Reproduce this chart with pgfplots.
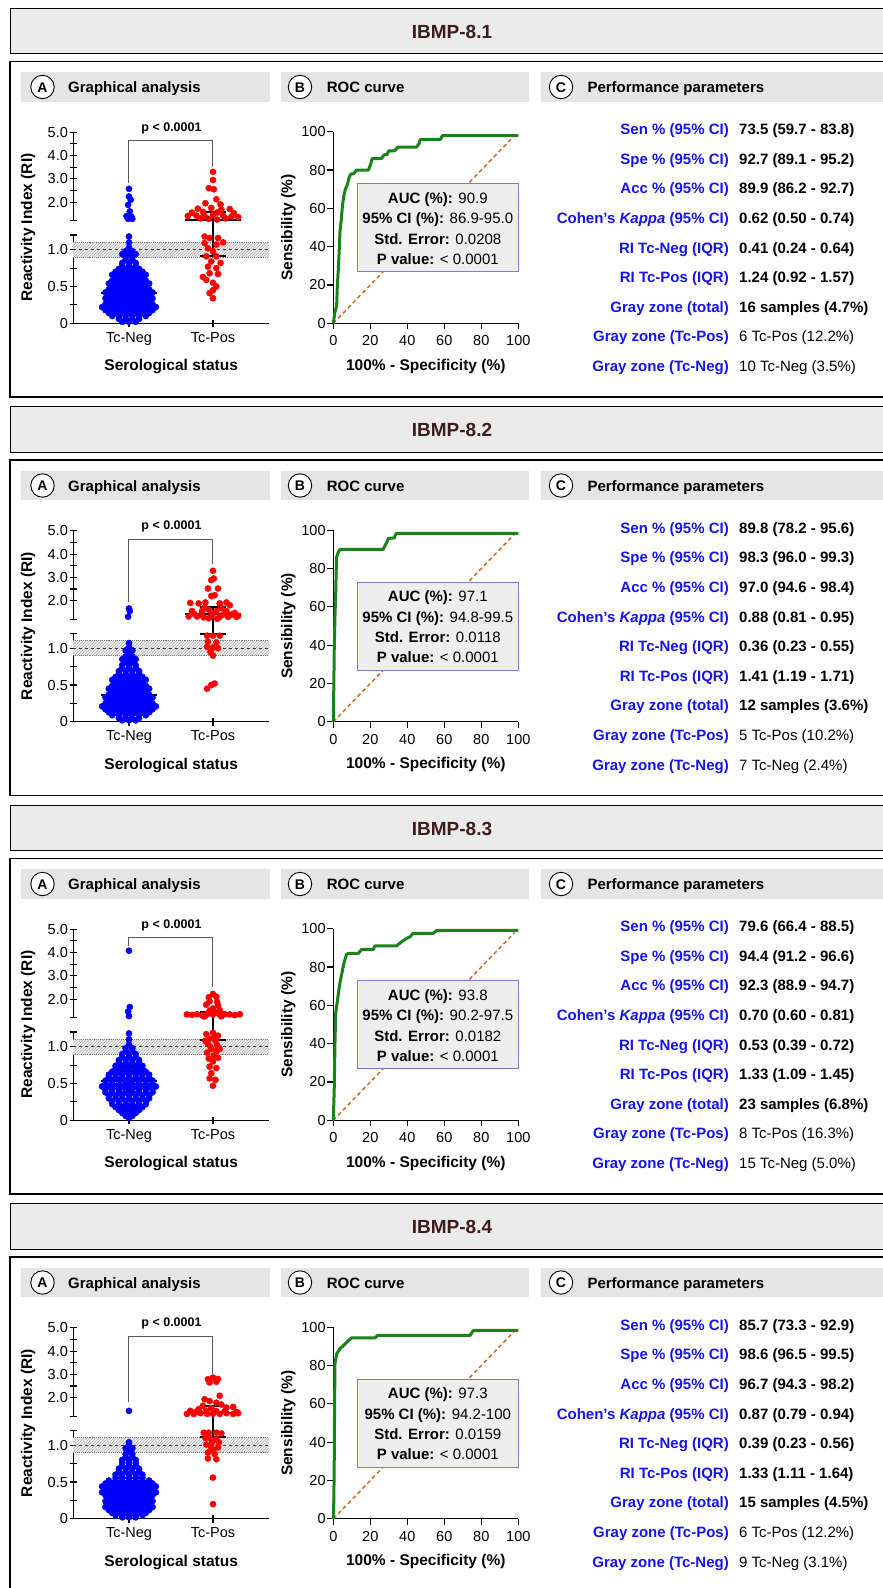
\documentclass[border=0pt]{standalone}
\usepackage{fontspec}
\setmainfont{Liberation Sans}
\usepackage{pgfplots}
\pgfplotsset{compat=1.18}
\usepackage{pgfplotstable}
\usetikzlibrary{patterns}
\definecolor{ptblue}{RGB}{0,0,255}
\definecolor{ptred}{RGB}{255,0,0}
\definecolor{lblblue}{RGB}{20,20,235}
\definecolor{rocgreen}{RGB}{25,130,25}
\definecolor{diagor}{RGB}{205,110,40}
\definecolor{boxedge}{RGB}{125,125,200}
\definecolor{boxfill}{RGB}{238,238,238}
\definecolor{hdrfill}{RGB}{235,235,235}
\definecolor{bandfill}{RGB}{229,229,229}
\definecolor{titlecol}{RGB}{60,28,28}
\newcommand{\fs}[1]{\fontsize{#1}{#1}\selectfont}
% ---------------- data ----------------
\pgfplotstableread[row sep=\\]{x y\\
0.92 0.02\\1 0.02\\1.08 0.02\\
0.88 0.06\\0.96 0.06\\1.04 0.06\\1.12 0.06\\
0.80 0.10\\0.88 0.10\\0.96 0.10\\1.04 0.10\\1.12 0.10\\1.20 0.10\\
0.76 0.14\\0.84 0.14\\0.92 0.14\\1 0.14\\1.08 0.14\\1.16 0.14\\1.24 0.14\\
0.72 0.18\\0.80 0.18\\0.88 0.18\\0.96 0.18\\1.04 0.18\\1.12 0.18\\1.20 0.18\\1.28 0.18\\
0.68 0.22\\0.76 0.22\\0.84 0.22\\0.92 0.22\\1 0.22\\1.08 0.22\\1.16 0.22\\1.24 0.22\\1.32 0.22\\
0.72 0.26\\0.80 0.26\\0.88 0.26\\0.96 0.26\\1.04 0.26\\1.12 0.26\\1.20 0.26\\1.28 0.26\\
0.76 0.30\\0.84 0.30\\0.92 0.30\\1 0.30\\1.08 0.30\\1.16 0.30\\1.24 0.30\\
0.72 0.34\\0.80 0.34\\0.88 0.34\\0.96 0.34\\1.04 0.34\\1.12 0.34\\1.20 0.34\\1.28 0.34\\
0.76 0.38\\0.84 0.38\\0.92 0.38\\1 0.38\\1.08 0.38\\1.16 0.38\\1.24 0.38\\
0.72 0.42\\0.80 0.42\\0.88 0.42\\0.96 0.42\\1.04 0.42\\1.12 0.42\\1.20 0.42\\1.28 0.42\\
0.76 0.46\\0.84 0.46\\0.92 0.46\\1 0.46\\1.08 0.46\\1.16 0.46\\1.24 0.46\\
0.80 0.50\\0.88 0.50\\0.96 0.50\\1.04 0.50\\1.12 0.50\\1.20 0.50\\
0.76 0.54\\0.84 0.54\\0.92 0.54\\1 0.54\\1.08 0.54\\1.16 0.54\\1.24 0.54\\
0.80 0.58\\0.88 0.58\\0.96 0.58\\1.04 0.58\\1.12 0.58\\1.20 0.58\\
0.84 0.62\\0.92 0.62\\1 0.62\\1.08 0.62\\1.16 0.62\\
0.80 0.66\\0.88 0.66\\0.96 0.66\\1.04 0.66\\1.12 0.66\\1.20 0.66\\
0.84 0.70\\0.92 0.70\\1 0.70\\1.08 0.70\\1.16 0.70\\
0.88 0.74\\0.96 0.74\\1.04 0.74\\1.12 0.74\\
0.92 0.78\\1 0.78\\1.08 0.78\\
0.92 0.82\\1 0.82\\1.08 0.82\\
0.96 0.86\\1.04 0.86\\
0.96 0.90\\1.04 0.90\\
0.92 0.94\\1 0.94\\1.08 0.94\\
0.96 0.98\\1.04 0.98\\
1 1.03\\1 1.10\\1 1.18\\
1 2.57\\1 2.24\\1.02 2.10\\0.99 1.88\\1.01 1.60\\0.97 1.40\\1.03 1.37\\0.99 1.28\\1.04 1.28\\
}\negA
\pgfplotstableread[row sep=\\]{x y\\
2 3.30\\2 2.95\\1.95 2.60\\2.01 2.55\\2.04 2.12\\1.91 1.95\\2.09 1.90\\1.82 1.72\\1.98 1.75\\2.10 1.68\\2.20 1.70\\
1.75 1.55\\1.88 1.58\\2.05 1.55\\2.25 1.52\\1.70 1.40\\1.80 1.42\\1.90 1.40\\2.00 1.45\\2.12 1.42\\2.22 1.38\\2.30 1.35\\
1.85 1.30\\2.15 1.30\\1.95 1.28\\2.05 1.25\\
1.90 1.18\\1.96 1.16\\2.06 1.16\\1.90 1.09\\2.04 1.07\\2.12 1.10\\1.94 1.02\\2.00 0.98\\1.92 0.91\\2.04 0.91\\
1.98 0.84\\1.94 0.77\\2.04 0.75\\1.96 0.68\\2.06 0.67\\1.92 0.59\\2.00 0.55\\2.04 0.50\\2.00 0.45\\1.96 0.41\\
2.00 0.34\\1.88 0.63\\2.09 0.82\\
}\posA
\pgfplotstableread[row sep=\\]{x y\\
0 0\\0.9 6\\1.8 9\\2.2 20\\2.7 28\\3.2 38\\3.6 48\\4.3 54\\5 62\\5.6 66\\6.5 70\\7.5 72\\8.5 76\\9.5 78\\11 78\\12.5 80\\19 80\\19.8 82\\20.5 84\\21 86\\26 86\\27.5 88\\29 88\\30 90\\33 90\\35 92\\45 92\\46.5 94\\47 96\\58 96\\59 98\\100 98\\
}\rocA
\pgfplotstableread[row sep=\\]{x y\\
0.92 0.02\\1 0.02\\1.08 0.02\\
0.88 0.05\\0.96 0.05\\1.04 0.05\\1.12 0.05\\
0.80 0.09\\0.88 0.09\\0.96 0.09\\1.04 0.09\\1.12 0.09\\1.20 0.09\\
0.76 0.13\\0.84 0.13\\0.92 0.13\\1 0.13\\1.08 0.13\\1.16 0.13\\1.24 0.13\\
0.72 0.17\\0.80 0.17\\0.88 0.17\\0.96 0.17\\1.04 0.17\\1.12 0.17\\1.20 0.17\\1.28 0.17\\
0.68 0.21\\0.76 0.21\\0.84 0.21\\0.92 0.21\\1 0.21\\1.08 0.21\\1.16 0.21\\1.24 0.21\\1.32 0.21\\
0.72 0.25\\0.80 0.25\\0.88 0.25\\0.96 0.25\\1.04 0.25\\1.12 0.25\\1.20 0.25\\1.28 0.25\\
0.76 0.29\\0.84 0.29\\0.92 0.29\\1 0.29\\1.08 0.29\\1.16 0.29\\1.24 0.29\\
0.72 0.33\\0.80 0.33\\0.88 0.33\\0.96 0.33\\1.04 0.33\\1.12 0.33\\1.20 0.33\\1.28 0.33\\
0.76 0.37\\0.84 0.37\\0.92 0.37\\1 0.37\\1.08 0.37\\1.16 0.37\\1.24 0.37\\
0.80 0.41\\0.88 0.41\\0.96 0.41\\1.04 0.41\\1.12 0.41\\1.20 0.41\\
0.76 0.45\\0.84 0.45\\0.92 0.45\\1 0.45\\1.08 0.45\\1.16 0.45\\1.24 0.45\\
0.80 0.49\\0.88 0.49\\0.96 0.49\\1.04 0.49\\1.12 0.49\\1.20 0.49\\
0.84 0.53\\0.92 0.53\\1 0.53\\1.08 0.53\\1.16 0.53\\
0.80 0.57\\0.88 0.57\\0.96 0.57\\1.04 0.57\\1.12 0.57\\1.20 0.57\\
0.84 0.61\\0.92 0.61\\1 0.61\\1.08 0.61\\1.16 0.61\\
0.88 0.65\\0.96 0.65\\1.04 0.65\\1.12 0.65\\
0.88 0.69\\0.96 0.69\\1.04 0.69\\1.12 0.69\\
0.92 0.73\\1 0.73\\1.08 0.73\\
0.92 0.77\\1 0.77\\1.08 0.77\\
0.96 0.81\\1.04 0.81\\
0.92 0.85\\1 0.85\\1.08 0.85\\
0.96 0.89\\1.04 0.89\\
1 0.93\\
0.96 0.97\\1.04 0.97\\
1 1.02\\1 1.07\\
1 1.66\\1.01 1.55\\0.99 1.31\\
}\negB
\pgfplotstableread[row sep=\\]{x y\\
2.00 3.28\\2.01 2.95\\1.98 2.88\\1.94 2.52\\2.06 2.52\\2.02 2.23\\1.98 2.20\\1.73 1.90\\1.83 1.88\\1.91 1.92\\2.08 1.88\\2.16 1.92\\2.20 1.80\\
1.75 1.55\\1.87 1.55\\1.95 1.60\\2.04 1.55\\2.16 1.55\\2.26 1.47\\1.71 1.32\\1.81 1.32\\1.89 1.28\\1.98 1.32\\2.08 1.30\\2.18 1.30\\2.28 1.30\\
1.90 1.70\\2.10 1.68\\1.78 1.42\\2.00 1.45\\2.22 1.40\\1.86 1.38\\2.12 1.40\\1.95 1.24\\2.05 1.22\\2.30 1.35\\
1.93 1.17\\2.00 1.17\\2.08 1.17\\1.94 1.09\\2.04 1.08\\1.93 1.02\\2.00 1.01\\2.06 1.00\\1.97 0.95\\2.00 0.90\\2.02 0.52\\1.98 0.50\\1.93 0.45\\
}\posB
\pgfplotstableread[row sep=\\]{x y\\
0 0\\0.3 20\\0.5 37\\0.9 55\\1.3 67\\1.6 80\\1.8 86\\2.7 88.5\\3.6 90\\27 90\\28 92\\28.8 93.5\\29.7 95.7\\33 96\\33.5 97.5\\34.2 98.3\\100 98.3\\
}\rocB
\pgfplotstableread[row sep=\\]{x y\\
1 0.03\\
0.96 0.06\\1.04 0.06\\
0.92 0.10\\1 0.10\\1.08 0.10\\
0.88 0.14\\0.96 0.14\\1.04 0.14\\1.12 0.14\\
0.84 0.18\\0.92 0.18\\1 0.18\\1.08 0.18\\1.16 0.18\\
0.80 0.22\\0.88 0.22\\0.96 0.22\\1.04 0.22\\1.12 0.22\\1.20 0.22\\
0.80 0.26\\0.88 0.26\\0.96 0.26\\1.04 0.26\\1.12 0.26\\1.20 0.26\\
0.76 0.30\\0.84 0.30\\0.92 0.30\\1 0.30\\1.08 0.30\\1.16 0.30\\1.24 0.30\\
0.76 0.34\\0.84 0.34\\0.92 0.34\\1 0.34\\1.08 0.34\\1.16 0.34\\1.24 0.34\\
0.72 0.38\\0.80 0.38\\0.88 0.38\\0.96 0.38\\1.04 0.38\\1.12 0.38\\1.20 0.38\\1.28 0.38\\
0.72 0.42\\0.80 0.42\\0.88 0.42\\0.96 0.42\\1.04 0.42\\1.12 0.42\\1.20 0.42\\1.28 0.42\\
0.68 0.46\\0.76 0.46\\0.84 0.46\\0.92 0.46\\1 0.46\\1.08 0.46\\1.16 0.46\\1.24 0.46\\1.32 0.46\\
0.72 0.50\\0.80 0.50\\0.88 0.50\\0.96 0.50\\1.04 0.50\\1.12 0.50\\1.20 0.50\\1.28 0.50\\
0.72 0.54\\0.80 0.54\\0.88 0.54\\0.96 0.54\\1.04 0.54\\1.12 0.54\\1.20 0.54\\1.28 0.54\\
0.76 0.58\\0.84 0.58\\0.92 0.58\\1 0.58\\1.08 0.58\\1.16 0.58\\1.24 0.58\\
0.76 0.62\\0.84 0.62\\0.92 0.62\\1 0.62\\1.08 0.62\\1.16 0.62\\1.24 0.62\\
0.80 0.66\\0.88 0.66\\0.96 0.66\\1.04 0.66\\1.12 0.66\\1.20 0.66\\
0.84 0.70\\0.92 0.70\\1 0.70\\1.08 0.70\\1.16 0.70\\
0.84 0.74\\0.92 0.74\\1 0.74\\1.08 0.74\\1.16 0.74\\
0.88 0.78\\0.96 0.78\\1.04 0.78\\1.12 0.78\\
0.88 0.82\\0.96 0.82\\1.04 0.82\\1.12 0.82\\
0.92 0.86\\1 0.86\\1.08 0.86\\
0.92 0.90\\1 0.90\\1.08 0.90\\
0.96 0.94\\1.04 0.94\\
0.96 0.98\\1.04 0.98\\
1 1.03\\1 1.10\\1 1.18\\
1 4.08\\1.01 1.66\\0.99 1.47\\1 1.27\\
}\negC
\pgfplotstableread[row sep=\\]{x y\\
2 2.22\\1.95 2.08\\2.04 2.10\\1.96 1.90\\2.05 1.88\\1.92 1.76\\2.06 1.72\\2.00 1.60\\1.96 1.50\\2.08 1.52\\
1.69 1.34\\1.75 1.32\\1.81 1.35\\1.87 1.30\\1.93 1.35\\2.00 1.34\\2.08 1.32\\2.14 1.35\\2.20 1.34\\2.26 1.31\\2.32 1.35\\1.95 1.42\\2.05 1.42\\1.90 1.25\\2.10 1.26\\
2.00 1.19\\1.92 1.17\\2.06 1.15\\1.96 1.11\\2.03 1.08\\1.94 1.04\\2.05 1.02\\1.98 0.97\\2.04 0.94\\1.93 0.92\\2.01 0.88\\2.00 0.80\\
1.96 0.73\\2.04 0.71\\1.98 0.64\\1.96 0.57\\2.03 0.55\\2.00 0.47\\2.06 0.85\\1.95 0.84\\2.02 1.13\\1.97 1.00\\2.08 0.97\\1.91 1.08\\
}\posC
\pgfplotstableread[row sep=\\]{x y\\
0 0\\0.5 16\\0.9 40\\1.3 56\\2.3 63\\3 68\\3.6 72\\4.5 76\\5.4 80.5\\6.3 84\\7.2 86.6\\8.1 87.1\\13.5 87.1\\15.3 89.2\\21.6 89.2\\22.5 91\\34.2 91\\36 92.5\\38.7 94.4\\41.4 95.8\\43.2 97.6\\54 97.6\\55.9 99.1\\100 99.1\\
}\rocC
\pgfplotstableread[row sep=\\]{x y\\
0.92 0.02\\1 0.02\\1.08 0.02\\
0.84 0.05\\0.92 0.05\\1 0.05\\1.08 0.05\\1.16 0.05\\
0.80 0.08\\0.88 0.08\\0.96 0.08\\1.04 0.08\\1.12 0.08\\1.20 0.08\\
0.76 0.12\\0.84 0.12\\0.92 0.12\\1 0.12\\1.08 0.12\\1.16 0.12\\1.24 0.12\\
0.72 0.16\\0.80 0.16\\0.88 0.16\\0.96 0.16\\1.04 0.16\\1.12 0.16\\1.20 0.16\\1.28 0.16\\
0.76 0.20\\0.84 0.20\\0.92 0.20\\1 0.20\\1.08 0.20\\1.16 0.20\\1.24 0.20\\
0.72 0.24\\0.80 0.24\\0.88 0.24\\0.96 0.24\\1.04 0.24\\1.12 0.24\\1.20 0.24\\1.28 0.24\\
0.76 0.28\\0.84 0.28\\0.92 0.28\\1 0.28\\1.08 0.28\\1.16 0.28\\1.24 0.28\\
0.72 0.32\\0.80 0.32\\0.88 0.32\\0.96 0.32\\1.04 0.32\\1.12 0.32\\1.20 0.32\\1.28 0.32\\
0.68 0.36\\0.76 0.36\\0.84 0.36\\0.92 0.36\\1 0.36\\1.08 0.36\\1.16 0.36\\1.24 0.36\\1.32 0.36\\
0.72 0.40\\0.80 0.40\\0.88 0.40\\0.96 0.40\\1.04 0.40\\1.12 0.40\\1.20 0.40\\1.28 0.40\\
0.68 0.44\\0.76 0.44\\0.84 0.44\\0.92 0.44\\1 0.44\\1.08 0.44\\1.16 0.44\\1.24 0.44\\1.32 0.44\\
0.72 0.48\\0.80 0.48\\0.88 0.48\\0.96 0.48\\1.04 0.48\\1.12 0.48\\1.20 0.48\\1.28 0.48\\
0.76 0.52\\0.84 0.52\\0.92 0.52\\1 0.52\\1.08 0.52\\1.16 0.52\\1.24 0.52\\
0.84 0.56\\0.92 0.56\\1 0.56\\1.08 0.56\\1.16 0.56\\
0.84 0.60\\0.92 0.60\\1 0.60\\1.08 0.60\\1.16 0.60\\
0.88 0.64\\0.96 0.64\\1.04 0.64\\1.12 0.64\\
0.88 0.68\\0.96 0.68\\1.04 0.68\\1.12 0.68\\
0.92 0.72\\1 0.72\\1.08 0.72\\
0.92 0.76\\1 0.76\\1.08 0.76\\
0.92 0.80\\1 0.80\\1.08 0.80\\
0.96 0.84\\1.04 0.84\\
0.96 0.88\\1.04 0.88\\
1 0.92\\
0.96 0.96\\1.04 0.96\\
1 1.00\\1 1.04\\
1 1.43\\
}\negD
\pgfplotstableread[row sep=\\]{x y\\
1.94 2.79\\2.00 2.86\\2.06 2.80\\1.96 2.65\\2.04 2.68\\1.90 1.93\\2.08 2.08\\1.96 1.85\\2.04 1.78\\1.88 1.65\\1.83 1.50\\2.16 1.57\\2.24 1.60\\
1.73 1.43\\1.80 1.40\\1.92 1.44\\2.04 1.42\\2.14 1.42\\2.28 1.38\\1.69 1.30\\1.77 1.30\\1.85 1.33\\1.93 1.30\\2.00 1.31\\2.08 1.30\\2.16 1.33\\2.24 1.30\\2.30 1.33\\1.98 1.55\\2.10 1.70\\
1.89 1.17\\1.95 1.17\\2.04 1.17\\2.10 1.16\\1.96 1.10\\2.04 1.08\\1.92 1.01\\1.98 0.97\\2.06 0.97\\1.94 0.90\\2.02 0.88\\2.04 0.81\\1.94 0.82\\2.00 0.56\\2.00 0.20\\1.99 1.04\\2.07 1.04\\2.00 0.93\\1.91 1.10\\
}\posD
\pgfplotstableread[row sep=\\]{x y\\
0 0\\0.3 10\\0.5 28.7\\0.7 60\\0.9 80.9\\1.8 86.1\\3.6 88.7\\5.4 90.4\\8.1 93\\9.9 94.4\\22.5 94.4\\23.9 95.7\\73.9 95.7\\75.7 98.3\\100 98.3\\
}\rocD
% ---------------- styles ----------------
\pgfplotsset{
  scat/.style={scale only axis, width=195.7pt, xmin=0.337, xmax=2.667,
    tick style={line width=1.1pt, black},
    tick align=outside, major tick length=7.5pt, clip=false,
    tick label style={font=\fs{14.5}}, yticklabel style={inner sep=1.5pt},
    xticklabel style={yshift=-1.5pt},
    /pgf/number format/assume math mode=true},
  negpts/.style={only marks, mark=*, mark size=3.1pt, color=ptblue},
  pospts/.style={only marks, mark=*, mark size=3.1pt, color=ptred},
  medl/.style={black, line width=2pt},
}
% #1 panel index, #2 neg table, #3 pos table, #4 roc table
\newcommand{\panel}[4]{%
\pgfmathsetmacro{\poff}{398.5*#1}%
\pgfmathsetmacro{\ylow}{-323.3-\poff}%
\pgfmathsetmacro{\yup}{-220.7-\poff}%
\begin{scope}[x=1pt,y=1pt]
\draw[fill=hdrfill, line width=1pt] (10,{-8.3-\poff}) rectangle (895,{-53.5-\poff});
\node[anchor=base, inner sep=0, font=\bfseries\fs{19}, text=titlecol] at (452,{-38.3-\poff}) {\ptitle};
\draw[line width=1.4pt] (10,{-61.5-\poff}) rectangle (895,{-397-\poff});
\fill[bandfill] (21,{-72-\poff}) rectangle (270,{-101.5-\poff});
\fill[bandfill] (281,{-72-\poff}) rectangle (529,{-101.5-\poff});
\fill[bandfill] (541,{-72-\poff}) rectangle (895,{-101.5-\poff});
\draw[fill=white, line width=0.9pt] (42.5,{-87-\poff}) circle (11.7);
\draw[fill=white, line width=0.9pt] (300,{-87-\poff}) circle (11.7);
\draw[fill=white, line width=0.9pt] (561,{-87-\poff}) circle (11.7);
\node[anchor=base, inner sep=0, font=\bfseries\fs{14}] at (42.5,{-92-\poff}) {A};
\node[anchor=base, inner sep=0, font=\bfseries\fs{14}] at (300,{-92-\poff}) {B};
\node[anchor=base, inner sep=0, font=\bfseries\fs{14}] at (561,{-92-\poff}) {C};
\node[anchor=base west, inner sep=0, font=\bfseries\fs{15}] at (68,{-92.5-\poff}) {Graphical analysis};
\node[anchor=base west, inner sep=0, font=\bfseries\fs{15}] at (326.7,{-92.5-\poff}) {ROC curve};
\node[anchor=base west, inner sep=0, font=\bfseries\fs{15}] at (587.3,{-92.5-\poff}) {Performance parameters};
\node[rotate=90, inner sep=0, font=\bfseries\fs{15.5}] at (28,{-227.5-\poff}) {Reactivity Index (RI)};
\node[anchor=base, inner sep=0, font=\bfseries\fs{15.5}] at (171.2,{-370.7-\poff}) {Serological status};
\node[anchor=base, inner sep=0, font=\bfseries\fs{12.5}] at (171.5,{-131-\poff}) {p < 0.0001};
\node[rotate=90, inner sep=0, font=\bfseries\fs{15.5}] at (288.3,{-227.5-\poff}) {Sensibility (\%)};
\node[anchor=base, inner sep=0, font=\bfseries\fs{15.5}] at (425.8,{-370-\poff}) {100\% - Specificity (\%)};
\end{scope}
\begin{axis}[scat, at={(73.3pt,\ylow pt)}, anchor=south west, height=88.3pt,
  ymin=0, ymax=1.2, axis x line=bottom, axis y line=left,
  axis line style={-, line width=1.1pt},
  xtick={1,2}, xticklabels={Tc-Neg,Tc-Pos},
  ytick={0,0.25,0.5,0.75,1,1.2}, yticklabels={0,,0.5,,1.0,}]
\fill[gray!12] (axis cs:0.337,0.9) rectangle (axis cs:2.667,1.1);
\fill[pattern=north east lines, pattern color=gray!60] (axis cs:0.337,0.9) rectangle (axis cs:2.667,1.1);
\draw[gray, densely dotted, line width=0.9pt] (axis cs:0.337,0.9) -- (axis cs:2.667,0.9);
\draw[gray, densely dotted, line width=0.9pt] (axis cs:0.337,1.1) -- (axis cs:2.667,1.1);
\draw[gray!45!black, dashed, line width=1pt] (axis cs:0.337,1) -- (axis cs:2.667,1);
\addplot[negpts, restrict y to domain=-1:1.2] table[x=x,y=y] {#2};
\addplot[pospts, restrict y to domain=-1:1.2] table[x=x,y=y] {#3};
\addplot[medl] coordinates {(0.67,\nmed) (1.33,\nmed)};
\addplot[medl] coordinates {(0.84,\nqa) (1.16,\nqa)};
\addplot[medl] coordinates {(0.84,\nqb) (1.16,\nqb)};
\addplot[medl] coordinates {(1,\nqa) (1,\nqb)};
\addplot[medl] coordinates {(1.84,\pqa) (2.16,\pqa)};
\addplot[medl] coordinates {(2,\pqa) (2,1.395)};
\end{axis}
\begin{axis}[scat, at={(73.3pt,\yup pt)}, anchor=south west, height=88.4pt,
  ymin=1.2, ymax=5, axis x line=none, axis y line=left,
  axis line style={-, line width=1.1pt},
  ytick={1.2,2,2.5,3,3.5,4,4.5,5}, yticklabels={,2.0,,3.0,,4.0,,5.0}]
\addplot[gray!70!black, line width=1pt] coordinates {(1,\brL) (1,4.64) (2,4.64) (2,\brR)};
\addplot[negpts, restrict y to domain=1.2:6] table[x=x,y=y] {#2};
\addplot[pospts, restrict y to domain=1.2:6] table[x=x,y=y] {#3};
\addplot[medl] coordinates {(1.67,\pmed) (2.33,\pmed)};
\addplot[medl] coordinates {(1.84,\pqb) (2.16,\pqb)};
\addplot[medl] coordinates {(2,1.2) (2,\pqb)};
\end{axis}
\begin{axis}[scale only axis, at={(333.3pt,\ylow pt)}, anchor=south west,
  width=185pt, height=191.6pt, xmin=0, xmax=100, ymin=0, ymax=100,
  axis x line=bottom, axis y line=left, axis line style={-, line width=1.1pt},
  tick style={line width=1.1pt, black}, tick align=outside, major tick length=6pt,
  xtick={0,20,...,100}, ytick={0,20,...,100},
  tick label style={font=\fs{14.5}}, yticklabel style={inner sep=1.5pt},
  xticklabel style={yshift=-3pt},
  /pgf/number format/assume math mode=true, clip=false]
\addplot[diagor, line width=1.5pt, dash pattern=on 4pt off 3pt] coordinates {(0,0) (98,98)};
\addplot[rocgreen, line width=3pt, line join=round] table[x=x,y=y] {#4};
\end{axis}
\begin{scope}[x=1pt,y=1pt]
\draw[fill=boxfill, draw=boxedge, line width=1pt] (357.3,{-183.5-\poff}) rectangle (518.3,{-271.5-\poff});
\node[anchor=base, inner sep=0, font=\fs{15}] at (437.8,{-203.3-\poff}) {\textbf{AUC (\%):} \auc};
\node[anchor=base, inner sep=0, font=\fs{15}] at (437.8,{-223.7-\poff}) {\textbf{95\% CI (\%):} \aci};
\node[anchor=base, inner sep=0, font=\fs{15}] at (437.8,{-244.1-\poff}) {\textbf{Std. Error:} \ase};
\node[anchor=base, inner sep=0, font=\fs{15}] at (437.8,{-264.4-\poff}) {\textbf{P value:} < 0.0001};
\node[anchor=base east, inner sep=0, font=\bfseries\fs{15}, text=lblblue] at (729,{-134.7-\poff}) {Sen \% (95\% CI)};
\node[anchor=base east, inner sep=0, font=\bfseries\fs{15}, text=lblblue] at (729,{-164.3-\poff}) {Spe \% (95\% CI)};
\node[anchor=base east, inner sep=0, font=\bfseries\fs{15}, text=lblblue] at (729,{-193.9-\poff}) {Acc \% (95\% CI)};
\node[anchor=base east, inner sep=0, font=\bfseries\fs{15}, text=lblblue] at (729,{-223.5-\poff}) {Cohen's \textit{Kappa} (95\% CI)};
\node[anchor=base east, inner sep=0, font=\bfseries\fs{15}, text=lblblue] at (729,{-253.1-\poff}) {RI Tc-Neg (IQR)};
\node[anchor=base east, inner sep=0, font=\bfseries\fs{15}, text=lblblue] at (729,{-282.7-\poff}) {RI Tc-Pos (IQR)};
\node[anchor=base east, inner sep=0, font=\bfseries\fs{15}, text=lblblue] at (729,{-312.3-\poff}) {Gray zone (total)};
\node[anchor=base east, inner sep=0, font=\bfseries\fs{15}, text=lblblue] at (729,{-341.9-\poff}) {Gray zone (Tc-Pos)};
\node[anchor=base east, inner sep=0, font=\bfseries\fs{15}, text=lblblue] at (729,{-371.5-\poff}) {Gray zone (Tc-Neg)};
\node[anchor=base west, inner sep=0, font=\bfseries\fs{15}] at (739,{-134.7-\poff}) {\cA};
\node[anchor=base west, inner sep=0, font=\bfseries\fs{15}] at (739,{-164.3-\poff}) {\cB};
\node[anchor=base west, inner sep=0, font=\bfseries\fs{15}] at (739,{-193.9-\poff}) {\cC};
\node[anchor=base west, inner sep=0, font=\bfseries\fs{15}] at (739,{-223.5-\poff}) {\cD};
\node[anchor=base west, inner sep=0, font=\bfseries\fs{15}] at (739,{-253.1-\poff}) {\cE};
\node[anchor=base west, inner sep=0, font=\bfseries\fs{15}] at (739,{-282.7-\poff}) {\cF};
\node[anchor=base west, inner sep=0, font=\bfseries\fs{15}] at (739,{-312.3-\poff}) {\cG};
\node[anchor=base west, inner sep=0, font=\fs{15}] at (739,{-341.9-\poff}) {\cH};
\node[anchor=base west, inner sep=0, font=\fs{15}] at (739,{-371.5-\poff}) {\cI};
\end{scope}
}
\begin{document}
\begin{tikzpicture}
\useasboundingbox (0pt,0pt) rectangle (883pt,-1588pt);
% ---- IBMP-8.1 ----
\def\ptitle{IBMP-8.1}
\def\nmed{0.41}\def\nqa{0.24}\def\nqb{0.64}\def\pmed{1.24}\def\pqa{0.92}\def\pqb{1.57}
\def\brL{2.84}\def\brR{3.52}
\def\auc{90.9}\def\aci{86.9-95.0}\def\ase{0.0208}
\def\cA{73.5 (59.7 - 83.8)}\def\cB{92.7 (89.1 - 95.2)}\def\cC{89.9 (86.2 - 92.7)}
\def\cD{0.62 (0.50 - 0.74)}\def\cE{0.41 (0.24 - 0.64)}\def\cF{1.24 (0.92 - 1.57)}
\def\cG{16 samples (4.7\%)}\def\cH{6 Tc-Pos (12.2\%)}\def\cI{10 Tc-Neg (3.5\%)}
\panel{0}{\negA}{\posA}{\rocA}
% ---- IBMP-8.2 ----
\def\ptitle{IBMP-8.2}
\def\nmed{0.36}\def\nqa{0.23}\def\nqb{0.55}\def\pmed{1.41}\def\pqa{1.19}\def\pqb{1.71}
\def\brL{1.94}\def\brR{3.59}
\def\auc{97.1}\def\aci{94.8-99.5}\def\ase{0.0118}
\def\cA{89.8 (78.2 - 95.6)}\def\cB{98.3 (96.0 - 99.3)}\def\cC{97.0 (94.6 - 98.4)}
\def\cD{0.88 (0.81 - 0.95)}\def\cE{0.36 (0.23 - 0.55)}\def\cF{1.41 (1.19 - 1.71)}
\def\cG{12 samples (3.6\%)}\def\cH{5 Tc-Pos (10.2\%)}\def\cI{7 Tc-Neg (2.4\%)}
\panel{1}{\negB}{\posB}{\rocB}
% ---- IBMP-8.3 ----
\def\ptitle{IBMP-8.3}
\def\nmed{0.53}\def\nqa{0.39}\def\nqb{0.72}\def\pmed{1.33}\def\pqa{1.09}\def\pqb{1.45}
\def\brL{4.30}\def\brR{2.51}
\def\auc{93.8}\def\aci{90.2-97.5}\def\ase{0.0182}
\def\cA{79.6 (66.4 - 88.5)}\def\cB{94.4 (91.2 - 96.6)}\def\cC{92.3 (88.9 - 94.7)}
\def\cD{0.70 (0.60 - 0.81)}\def\cE{0.53 (0.39 - 0.72)}\def\cF{1.33 (1.09 - 1.45)}
\def\cG{23 samples (6.8\%)}\def\cH{8 Tc-Pos (16.3\%)}\def\cI{15 Tc-Neg (5.0\%)}
\panel{2}{\negC}{\posC}{\rocC}
% ---- IBMP-8.4 ----
\def\ptitle{IBMP-8.4}
\def\nmed{0.39}\def\nqa{0.23}\def\nqb{0.56}\def\pmed{1.33}\def\pqa{1.11}\def\pqb{1.64}
\def\brL{1.83}\def\brR{3.0}
\def\auc{97.3}\def\aci{94.2-100}\def\ase{0.0159}
\def\cA{85.7 (73.3 - 92.9)}\def\cB{98.6 (96.5 - 99.5)}\def\cC{96.7 (94.3 - 98.2)}
\def\cD{0.87 (0.79 - 0.94)}\def\cE{0.39 (0.23 - 0.56)}\def\cF{1.33 (1.11 - 1.64)}
\def\cG{15 samples (4.5\%)}\def\cH{6 Tc-Pos (12.2\%)}\def\cI{9 Tc-Neg (3.1\%)}
\panel{3}{\negD}{\posD}{\rocD}
\end{tikzpicture}
\end{document}
